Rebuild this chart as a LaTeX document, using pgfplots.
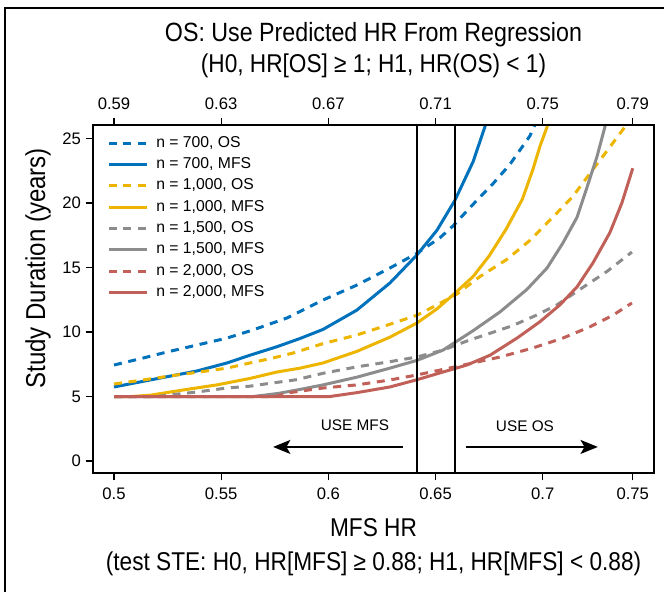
\documentclass[border=0pt]{standalone}
\usepackage{fontspec}
\setmainfont{Liberation Sans}
\newfontfamily\condfont[FakeStretch=0.88]{Liberation Sans}
\usepackage{pgfplots}
\pgfplotsset{compat=1.18}
\usetikzlibrary{arrows.meta}
\definecolor{cblue}{RGB}{0,114,188}
\definecolor{cyellow}{RGB}{237,181,0}
\definecolor{cgray}{RGB}{140,140,140}
\definecolor{cred}{RGB}{192,96,88}
\begin{document}
\begin{tikzpicture}
\useasboundingbox (-69.75pt,-89.25pt) rectangle (428.25pt,354.75pt);
\draw[line width=1.5pt] (-66pt,-100pt) -- (-66pt,348.75pt) -- (440pt,348.75pt);
\begin{axis}[name=main, at={(0,0)}, anchor=south west, scale only axis,
 width=420.75pt, height=261pt,
 xmin=0.4902, xmax=0.7519, ymin=-0.93, ymax=26.05,
 xtick={0.5,0.55,0.6,0.65,0.7,0.742}, xticklabels={0.5,0.55,0.6,0.65,0.7,0.75},
 ytick={0,5,10,15,20,25}, yticklabels={0,5,10,15,20,25},
 tick align=outside, xtick pos=left, ytick pos=left, major tick length=5.5pt,
 tick style={black, line width=1pt},
 axis line style={line width=1.5pt},
 ticklabel style={font=\fontsize{12.5}{14}\selectfont},
 xticklabel style={yshift=-2pt},
 /pgf/number format/assume math mode=true,
 legend style={at={(0.025,0.973)}, anchor=north west, draw=none, fill=none, inner sep=0pt,
   font=\fontsize{11.8}{13}\selectfont, row sep=3pt,
   nodes={inner sep=0.5pt, text height=9pt, text depth=3pt},
   /tikz/every odd column/.style={column sep=5pt}},
 legend cell align=left,
 legend image code/.code={\draw[#1] (0pt,0pt) -- (29pt,0pt);},
]
\addplot[color=cblue, line width=2.25pt, dash pattern=on 6pt off 5pt] coordinates {(0.5,7.44) (0.5135,7.98) (0.5247,8.45) (0.5387,8.99) (0.5527,9.53) (0.5648,10.16) (0.5807,11.09) (0.5975,12.48) (0.6133,13.64) (0.6287,14.96) (0.6413,16.1) (0.652,17.3) (0.658,18.2) (0.6675,19.9) (0.6768,21.5) (0.6847,23.0) (0.694,25.2) (0.6975,26.5)};
\addlegendentry{n = 700, OS}
\addplot[color=cblue, line width=2.25pt] coordinates {(0.5,5.74) (0.5168,6.28) (0.5387,6.98) (0.5527,7.6) (0.5634,8.2) (0.576,8.86) (0.5868,9.5) (0.5975,10.2) (0.6133,11.7) (0.6287,13.8) (0.6413,15.97) (0.6507,17.9) (0.659,20.2) (0.6675,23.2) (0.673,25.9) (0.674,26.5)};
\addlegendentry{n = 700, MFS}
\addplot[color=cyellow, line width=2.25pt, dash pattern=on 6pt off 5pt] coordinates {(0.5,5.97) (0.5135,6.28) (0.5294,6.67) (0.540,6.9) (0.5527,7.2) (0.5634,7.6) (0.574,7.98) (0.5835,8.37) (0.5975,9.1) (0.6133,9.77) (0.6287,10.6) (0.6413,11.3) (0.6507,12.1) (0.66,12.95) (0.6707,14.3) (0.683,15.6) (0.694,17.1) (0.7047,18.9) (0.714,20.5) (0.7234,22.6) (0.7327,24.65) (0.7383,25.9) (0.7416,26.4)};
\addlegendentry{n = 1,000, OS}
\addplot[color=cyellow, line width=2.25pt] coordinates {(0.5,5) (0.508,5) (0.5168,5.1) (0.532,5.5) (0.548,5.9) (0.5634,6.4) (0.576,6.9) (0.5868,7.2) (0.5975,7.6) (0.6133,8.5) (0.6287,9.6) (0.6413,10.7) (0.6507,11.8) (0.659,13.0) (0.6675,14.3) (0.675,15.9) (0.683,18.0) (0.6905,20.3) (0.6954,22.6) (0.6987,24.4) (0.702,25.9) (0.7025,26.5)};
\addlegendentry{n = 1,000, MFS}
\addplot[color=cgray, line width=2.25pt, dash pattern=on 6pt off 5pt] coordinates {(0.5,5) (0.52,5) (0.5247,5.1) (0.5387,5.35) (0.5527,5.66) (0.5634,5.8) (0.574,6.05) (0.585,6.3) (0.5975,6.8) (0.6133,7.3) (0.6287,7.7) (0.6413,8.06) (0.6535,8.6) (0.6646,9.3) (0.6754,9.9) (0.686,10.5) (0.697,11.3) (0.7066,12.1) (0.7173,13.3) (0.73,14.7) (0.7416,16.2)};
\addlegendentry{n = 1,500, OS}
\addplot[color=cgray, line width=2.25pt] coordinates {(0.5,5) (0.565,5) (0.577,5.25) (0.5868,5.55) (0.5975,5.9) (0.6133,6.5) (0.6287,7.2) (0.6413,7.8) (0.6535,8.6) (0.6675,10.1) (0.68,11.55) (0.6926,13.3) (0.702,14.96) (0.7094,16.9) (0.716,18.9) (0.7206,21.2) (0.7253,23.6) (0.729,25.9) (0.7295,26.5)};
\addlegendentry{n = 1,500, MFS}
\addplot[color=cred, line width=2.25pt, dash pattern=on 6pt off 5pt] coordinates {(0.5,5) (0.575,5) (0.582,5.3) (0.5975,5.66) (0.6133,5.9) (0.6287,6.28) (0.6413,6.67) (0.6535,7.1) (0.6646,7.5) (0.68,8.06) (0.6954,8.76) (0.7094,9.53) (0.722,10.4) (0.7327,11.3) (0.7416,12.25)};
\addlegendentry{n = 2,000, OS}
\addplot[color=cred, line width=2.25pt] coordinates {(0.5,5) (0.6007,5) (0.6133,5.3) (0.6287,5.74) (0.6413,6.3) (0.6535,6.9) (0.6646,7.44) (0.6754,8.2) (0.688,9.53) (0.6987,10.8) (0.708,12.1) (0.716,13.5) (0.7234,15.35) (0.7313,17.7) (0.7369,20.0) (0.742,22.7)};
\addlegendentry{n = 2,000, MFS}
\draw[line width=1.2pt] (axis cs:0.6413,-0.93) -- (axis cs:0.6413,26.05);
\draw[line width=1.2pt] (axis cs:0.659,-0.93) -- (axis cs:0.659,26.05);
\draw[line width=1.1pt, -{Stealth[length=13pt,width=10.5pt,inset=3pt]}] (axis cs:0.6348,1.09) -- (axis cs:0.5742,1.09);
\draw[line width=1.1pt, -{Stealth[length=13pt,width=10.5pt,inset=3pt]}] (axis cs:0.6642,1.09) -- (axis cs:0.7257,1.09);
\node[font=\fontsize{11.5}{13}\selectfont] at (axis cs:0.6124,2.8) {USE MFS};
\node[font=\fontsize{11.5}{13}\selectfont] at (axis cs:0.6917,2.7) {USE OS};
\end{axis}
\begin{axis}[at={(0,0)}, anchor=south west, scale only axis,
 width=420.75pt, height=261pt,
 xmin=0.4902, xmax=0.7519, ymin=0, ymax=1,
 axis x line*=top, axis y line=none,
 xtick={0.5,0.55,0.6,0.65,0.7,0.742}, xticklabels={0.59,0.63,0.67,0.71,0.75,0.79},
 tick align=outside, major tick length=5.5pt,
 tick style={black, line width=1pt},
 axis line style={line width=1.5pt},
 ticklabel style={font=\fontsize{12.5}{14}\selectfont},
 xticklabel style={yshift=2.5pt},
]
\end{axis}
\node[font=\condfont\fontsize{19.8}{22}\selectfont] at ([yshift=67.5pt]main.north) {OS: Use Predicted HR From Regression};
\node[font=\condfont\fontsize{19.3}{22}\selectfont] at ([yshift=44.25pt]main.north) {(H0, HR[OS] ≥ 1; H1, HR(OS) < 1)};
\node[font=\condfont\fontsize{19.3}{22}\selectfont] at ([yshift=-41.25pt]main.south) {MFS HR};
\node[font=\condfont\fontsize{19.3}{22}\selectfont] at ([yshift=-68.25pt]main.south) {(test STE: H0, HR[MFS] ≥ 0.88; H1, HR[MFS] < 0.88)};
\node[font=\condfont\fontsize{20.5}{22}\selectfont, rotate=90] at ([xshift=-41.25pt,yshift=23pt]main.west) {Study Duration (years)};
\end{tikzpicture}
\end{document}
